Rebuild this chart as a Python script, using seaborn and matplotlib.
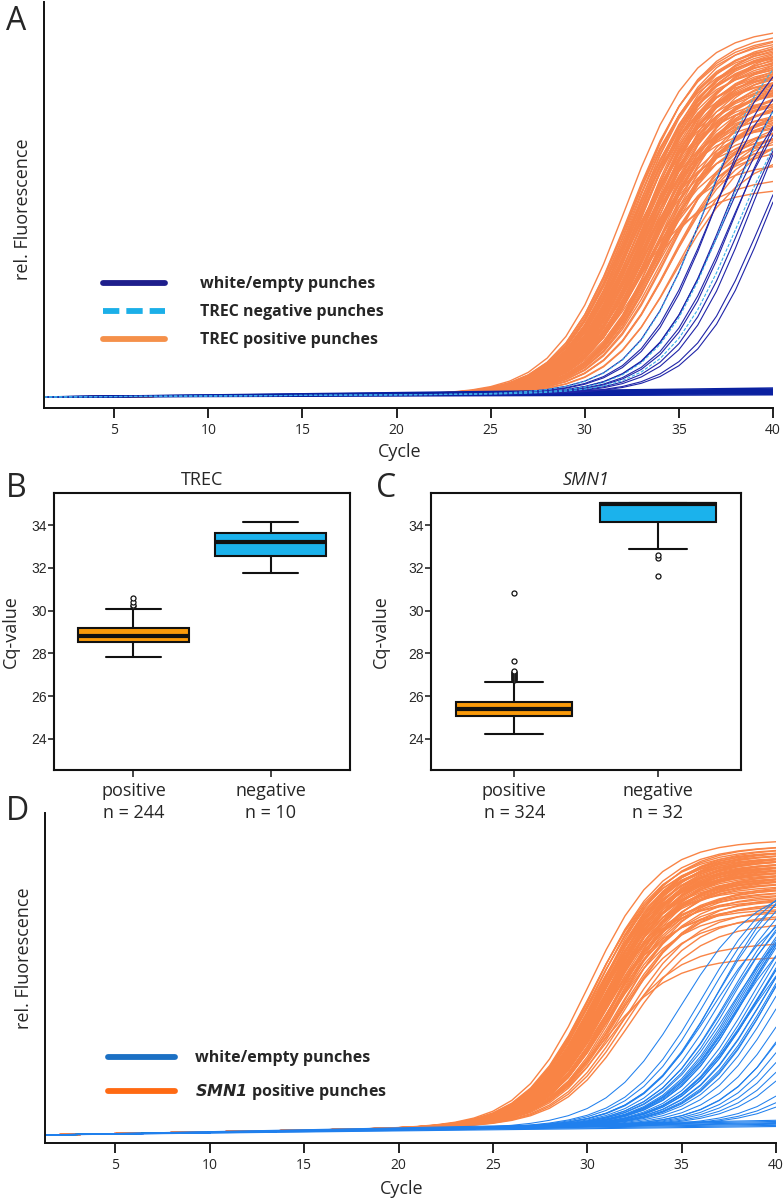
import numpy as np
import pandas as pd
import seaborn as sns
import matplotlib.pyplot as plt
from matplotlib.lines import Line2D

cycles = np.arange(1, 41)

# ---- panel A: TREC amplification curves (midpoint cycle, plateau height)
a_pos_mid = [32.1, 32.2, 32.2, 32.3, 32.3, 32.3, 32.4, 32.4, 32.4, 32.5,
             32.5, 32.5, 32.5, 32.6, 32.6, 32.6, 32.6, 32.7, 32.7, 32.7,
             32.7, 32.7, 32.8, 32.8, 32.8, 32.8, 32.8, 32.9, 32.9, 32.9,
             32.9, 32.9, 33.0, 33.0, 33.0, 33.0, 33.0, 33.1, 33.1, 33.1,
             33.1, 33.1, 33.2, 33.2, 33.2, 33.2, 33.3, 33.3, 33.3, 33.3,
             33.4, 33.4, 33.4, 33.4, 33.5, 33.5, 33.5, 33.5, 33.6, 33.6,
             33.6, 33.7, 33.7, 33.7, 33.8, 33.8, 33.8, 33.9, 33.9, 34.0,
             34.0, 34.1, 34.1, 34.2, 34.2, 34.3, 34.4, 34.5, 34.6, 34.8,
             35.0, 32.4, 32.6, 32.9, 33.2, 33.5, 33.9, 34.3, 32.3, 32.8,
             33.3, 33.7, 32.5, 33.0, 33.6, 34.1, 32.7, 33.4, 34.0, 34.6]
a_pos_top = [0.98, 0.91, 0.84, 0.95, 0.78, 0.88, 0.93, 0.72, 0.86, 0.97,
             0.81, 0.90, 0.75, 0.94, 0.87, 0.69, 0.92, 0.83, 0.96, 0.79,
             0.89, 0.74, 0.93, 0.85, 0.68, 0.91, 0.80, 0.95, 0.77, 0.88,
             0.58, 0.92, 0.83, 0.71, 0.90, 0.86, 0.94, 0.76, 0.82, 0.89,
             0.73, 0.93, 0.87, 0.67, 0.91, 0.84, 0.79, 0.95, 0.70, 0.88,
             0.85, 0.92, 0.78, 0.66, 0.90, 0.81, 0.87, 0.74, 0.93, 0.83,
             0.89, 0.72, 0.86, 0.80, 0.91, 0.68, 0.84, 0.88, 0.76, 0.82,
             0.79, 0.86, 0.71, 0.84, 0.77, 0.80, 0.74, 0.69, 0.72, 0.65,
             0.70, 0.96, 0.90, 0.85, 0.82, 0.78, 0.75, 0.73, 0.55, 0.62,
             0.88, 0.81, 0.94, 0.87, 0.80, 0.77, 0.92, 0.83, 0.76, 0.71]
a_empty_mid = [36.3, 36.6, 36.9, 37.2, 37.4, 37.7, 38.0, 38.4, 38.8, 39.3, 39.7]
a_empty_top = [0.97, 0.92, 0.99, 0.88, 0.95, 0.90, 0.96, 0.93, 0.98, 0.90, 0.95]
a_neg_mid = [36.4, 37.5, 38.1]
a_neg_top = [1.00, 0.96, 0.90]
a_flat_end = [0.006, 0.009, 0.011, 0.012, 0.014, 0.015, 0.017, 0.019, 0.021, 0.024]

# ---- panel D: SMN1 amplification curves
d_pos_mid = [30.1, 30.2, 30.2, 30.3, 30.3, 30.4, 30.4, 30.4, 30.5, 30.5,
             30.5, 30.5, 30.6, 30.6, 30.6, 30.6, 30.7, 30.7, 30.7, 30.7,
             30.7, 30.8, 30.8, 30.8, 30.8, 30.8, 30.9, 30.9, 30.9, 30.9,
             30.9, 31.0, 31.0, 31.0, 31.0, 31.1, 31.1, 31.1, 31.1, 31.2,
             31.2, 31.2, 31.2, 31.3, 31.3, 31.3, 31.4, 31.4, 31.4, 31.5,
             31.5, 31.6, 31.6, 31.7, 31.7, 31.8, 31.9, 32.0, 32.1, 32.2,
             30.4, 30.6, 30.8, 31.0, 31.2, 31.4, 30.5, 30.7, 30.9, 31.1,
             31.3, 31.5, 30.3, 30.8, 31.2, 31.6, 30.6, 31.0, 31.4, 30.7]
d_pos_top = [0.99, 0.93, 0.87, 0.95, 0.82, 0.90, 0.97, 0.78, 0.92, 0.85,
             0.96, 0.88, 0.80, 0.94, 0.91, 0.75, 0.89, 0.93, 0.84, 0.97,
             0.86, 0.92, 0.79, 0.95, 0.88, 0.83, 0.91, 0.76, 0.94, 0.87,
             0.90, 0.81, 0.93, 0.85, 0.96, 0.89, 0.74, 0.92, 0.86, 0.90,
             0.82, 0.95, 0.88, 0.78, 0.91, 0.84, 0.87, 0.93, 0.72, 0.89,
             0.85, 0.80, 0.90, 0.77, 0.86, 0.83, 0.79, 0.75, 0.73, 0.70,
             0.94, 0.89, 0.58, 0.92, 0.86, 0.81, 0.88, 0.95, 0.84, 0.91,
             0.63, 0.87, 0.92, 0.85, 0.90, 0.77, 0.93, 0.88, 0.82, 0.90]
d_empty_mid = [35.0, 36.1, 36.4, 36.8, 37.2, 37.5, 37.7, 38.0, 38.1, 38.2,
               38.3, 38.4, 38.7, 38.9, 39.1, 39.4, 39.6, 39.7, 40.0, 40.4,
               41.5, 41.9, 42.3, 43.2, 44.2, 44.8, 45.3, 36.6, 37.0, 37.4,
               37.9, 38.5, 38.8, 39.3, 39.9, 40.8, 41.2, 42.8, 37.6, 38.6, 39.0]
d_empty_top = [0.85, 0.90, 0.90, 0.90, 0.90, 0.90, 0.90, 0.90, 0.90, 0.90,
               0.90, 0.90, 0.90, 0.90, 0.90, 0.90, 0.90, 0.90, 0.90, 0.90,
               0.90, 0.90, 0.90, 0.90, 0.90, 0.90, 0.90, 0.82, 0.95, 0.86,
               0.80, 0.93, 0.84, 0.88, 0.95, 0.85, 0.80, 0.92, 0.83, 0.78, 0.87]
d_flat_end = [0.030, 0.034, 0.038, 0.041, 0.044, 0.048, 0.052]

# ---- panels B, C: Cq box plots
cat_labels_trec = ['positive\nn = 244', 'negative\nn = 10']
cat_labels_smn = ['positive\nn = 324', 'negative\nn = 32']
trec_q1 = [28.52, 32.55]
trec_med = [28.83, 33.19]
trec_q3 = [29.17, 33.64]
trec_lo = [27.85, 31.77]
trec_hi = [30.10, 34.15]
trec_fliers = [[30.20, 30.27, 30.40, 30.57], []]
smn_q1 = [25.09, 34.13]
smn_med = [25.40, 35.00]
smn_q3 = [25.75, 35.01]
smn_lo = [24.22, 32.86]
smn_hi = [26.68, 35.01]
smn_fliers = [[26.75, 26.80, 26.85, 26.90, 26.95, 27.00, 27.05, 27.10, 27.15, 27.20, 27.65, 30.82],
              [32.47, 32.60, 31.62]]

ORANGE_A = '#F7844A'
ORANGE_D = '#F98445'
NAVY = '#1F24A8'
LIGHTBLUE = '#3AAEE8'
BLUE_D = '#2080EE'
BOX_OR = '#FA9A0A'
BOX_BL = '#1BB2EC'


def sigmoid_curves(mids, tops, slope, drift, tag):
    frames = []
    for i, (m, p) in enumerate(zip(mids, tops)):
        y = p / (1 + np.exp(-(cycles - m) / slope)) + drift * (cycles - 1)
        frames.append(pd.DataFrame({'cycle': cycles, 'fluo': y, 'well': f'{tag}{i}'}))
    return pd.concat(frames, ignore_index=True)


def flat_curves(ends, tag):
    frames = []
    for i, e in enumerate(ends):
        frames.append(pd.DataFrame({'cycle': cycles, 'fluo': e * (cycles - 1) / 39, 'well': f'{tag}{i}'}))
    return pd.concat(frames, ignore_index=True)


sns.set_style('ticks')
plt.rcParams['font.family'] = ['Open Sans', 'DejaVu Sans']

fig = plt.figure(figsize=(7.84, 12), dpi=100)
W, H = 784, 1200


def px_axes(l, t, r, b):
    return fig.add_axes([l / W, 1 - b / H, (r - l) / W, (b - t) / H])


def lines(ax, df, color, lw, **kw):
    sns.lineplot(data=df, x='cycle', y='fluo', units='well', estimator=None,
                 color=color, lw=lw, legend=False, ax=ax, sort=False, **kw)


def curve_axes(ax, ylim):
    ax.set_xlim(1.27, 40)
    ax.set_ylim(*ylim)
    ax.set_xticks([5, 10, 15, 20, 25, 30, 35, 40])
    ax.set_yticks([])
    sns.despine(ax=ax)
    for s in ['left', 'bottom']:
        ax.spines[s].set_linewidth(1.4)
        ax.spines[s].set_color('#111111')
    ax.tick_params(axis='x', length=7, width=1.3, labelsize=10, pad=4, color='#111111')
    ax.set_xlabel('Cycle', fontsize=13)
    ax.set_ylabel('rel. Fluorescence', fontsize=13)


# ---------- A
axA = px_axes(44, 2, 773, 408)
lines(axA, sigmoid_curves(a_pos_mid, a_pos_top, 1.85, 0.0003, 'p'), ORANGE_A, 1.0)
lines(axA, flat_curves(a_flat_end, 'f'), '#0A20A0', 1.1)
lines(axA, sigmoid_curves(a_empty_mid, a_empty_top, 1.9, 0.0003, 'e'), NAVY, 0.8)
lines(axA, sigmoid_curves(a_neg_mid, a_neg_top, 1.9, 0.0003, 'n'), LIGHTBLUE, 0.8, ls=(0, (3, 1.5)))
curve_axes(axA, (-0.0296, 1.062))
axA.xaxis.set_label_coords(0.488, -0.085)
axA.yaxis.set_label_coords(-0.016, 0.49)
handlesA = [Line2D([], [], color='#1E1E8C', lw=4.2),
            Line2D([], [], color='#1BAFE8', lw=4.2, ls=(0, (2.8, 1.2))),
            Line2D([], [], color='#F5904A', lw=4.2)]
axA.legend(handlesA, ['white/empty punches', 'TREC negative punches', 'TREC positive punches'],
           loc='upper left', bbox_to_anchor=(0.072, 0.34), frameon=False,
           prop={'weight': 'bold', 'size': 11.5}, handlelength=3.9, handletextpad=2.2,
           labelspacing=0.75, borderaxespad=0)

# ---------- D
axD = px_axes(45, 813, 776, 1143)
lines(axD, sigmoid_curves(d_pos_mid, d_pos_top, 1.8, 0.0012, 'p'), ORANGE_D, 1.0)
lines(axD, flat_curves(d_flat_end, 'f'), BLUE_D, 0.8)
lines(axD, sigmoid_curves(d_empty_mid, d_empty_top, 2.0, 0.001, 'e'), BLUE_D, 0.75)
curve_axes(axD, (-0.028, 1.134))
axD.xaxis.set_label_coords(0.488, -0.112)
axD.yaxis.set_label_coords(-0.016, 0.56)
handlesD = [Line2D([], [], color='#1B70C4', lw=4.2),
            Line2D([], [], color='#FF6A13', lw=4.2)]
axD.legend(handlesD, ['white/empty punches', r'$\bfit{SMN1}$ positive punches'],
           loc='upper left', bbox_to_anchor=(0.078, 0.30), frameon=False,
           prop={'weight': 'bold', 'size': 11.5}, handlelength=4.2, handletextpad=1.2,
           labelspacing=1.0, borderaxespad=0)


# ---------- B, C
def box_panel(ax, q1, med, q3, lo, hi, fl, labels, title, italic):
    stats = [dict(q1=q1[i], med=med[i], q3=q3[i], whislo=lo[i], whishi=hi[i],
                  fliers=fl[i]) for i in range(2)]
    bp = ax.bxp(stats, positions=[0, 1], widths=0.81, patch_artist=True,
                manage_ticks=False,
                boxprops=dict(lw=1.5, edgecolor='#111111'),
                medianprops=dict(color='#111111', lw=3.0),
                whiskerprops=dict(lw=1.5, color='#111111'),
                capprops=dict(lw=1.5, color='#111111'),
                flierprops=dict(marker='o', ms=3.6, mfc='white', mec='#111111', mew=0.9))
    for patch, c in zip(bp['boxes'], [BOX_OR, BOX_BL]):
        patch.set_facecolor(c)
    ax.set_xlim(-0.58, 1.58)
    ax.set_ylim(22.55, 35.5)
    ax.set_yticks([24, 26, 28, 30, 32, 34])
    ax.set_yticklabels(['24', '26', '28', '30', '32', '34'], family='Liberation Sans', fontsize=10)
    ax.set_xticks([0, 1])
    ax.set_xticklabels(labels, fontsize=13, linespacing=1.25)
    ax.tick_params(axis='y', length=4, width=1.2, pad=1)
    ax.tick_params(axis='x', length=5, width=1.2, pad=4)
    for s in ax.spines.values():
        s.set_linewidth(1.5)
        s.set_color('#111111')
    ax.set_title(title, fontsize=13, pad=6, style='italic' if italic else 'normal')
    ax.set_ylabel('Cq-value', fontsize=13)


axB = px_axes(54, 493, 350, 770)
box_panel(axB, trec_q1, trec_med, trec_q3, trec_lo, trec_hi, trec_fliers,
          cat_labels_trec, 'TREC', False)
axB.yaxis.set_label_coords(-0.115, 0.5)

axC = px_axes(431, 493, 741, 770)
box_panel(axC, smn_q1, smn_med, smn_q3, smn_lo, smn_hi, smn_fliers,
          cat_labels_smn, 'SMN1', True)
axC.yaxis.set_label_coords(-0.132, 0.5)

for letter, x, y in [('A', 6, 5), ('B', 6, 472), ('C', 376, 472), ('D', 6, 795)]:
    fig.text(x / W, 1 - y / H, letter, fontsize=23, va='top', ha='left')

fig.savefig('out.png', dpi=100)
